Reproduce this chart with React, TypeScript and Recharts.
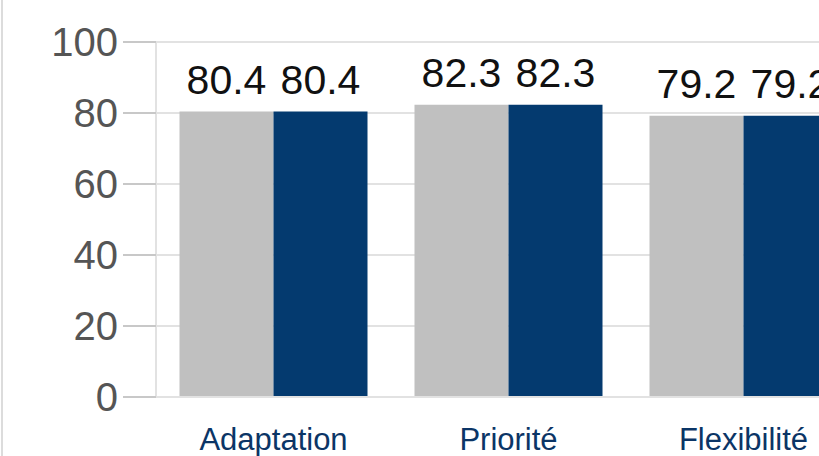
import React from 'react';
import { BarChart, Bar, XAxis, YAxis, CartesianGrid, LabelList } from 'recharts';

const categories = ['Adaptation', 'Priorité', 'Flexibilité'];
const seriesA = [80.4, 82.3, 79.2];
const seriesB = [80.4, 82.3, 79.2];
const yTicks = [0, 20, 40, 60, 80, 100];

const data = categories.map((c, i) => ({ name: c, a: seriesA[i], b: seriesB[i] }));

const FONT = '"Liberation Sans", Arial, Helvetica, sans-serif';

export default function App() {
  return (
    <div style={{ position: 'absolute', left: 0, top: 0, width: 819, height: 456, overflow: 'hidden', background: '#fff' }}>
      <div style={{ position: 'absolute', left: 1, top: 0, width: 2, height: 456, background: '#dcdcdc' }} />
      <BarChart
        width={880}
        height={456}
        data={data}
        margin={{ top: 42, right: 19, bottom: 0, left: 0 }}
        barCategoryGap="10%"
        barGap={0}
      >
        <CartesianGrid vertical={false} stroke="#e2e2e2" strokeWidth={2} />
        <XAxis
          dataKey="name"
          height={59}
          axisLine={{ stroke: '#e2e2e2', strokeWidth: 2 }}
          tickLine={false}
          tickSize={0}
          tickMargin={31}
          tick={{ fill: '#0b3566', fontSize: 31, fontFamily: FONT }}
        />
        <YAxis
          width={156}
          domain={[0, 100]}
          ticks={yTicks}
          interval={0}
          axisLine={{ stroke: '#e2e2e2', strokeWidth: 2 }}
          tickLine={{ stroke: '#c8c8c8', strokeWidth: 2 }}
          tickSize={33}
          tickMargin={5}
          tick={{ fill: '#555555', fontSize: 40, fontFamily: FONT }}
        />
        <Bar dataKey="a" fill="#c0c0c0" isAnimationActive={false}>
          <LabelList dataKey="a" position="top" offset={18} fill="#111111" fontSize={41} fontFamily={FONT} />
        </Bar>
        <Bar dataKey="b" fill="#043a6f" isAnimationActive={false}>
          <LabelList dataKey="b" position="top" offset={18} fill="#111111" fontSize={41} fontFamily={FONT} />
        </Bar>
      </BarChart>
    </div>
  );
}
